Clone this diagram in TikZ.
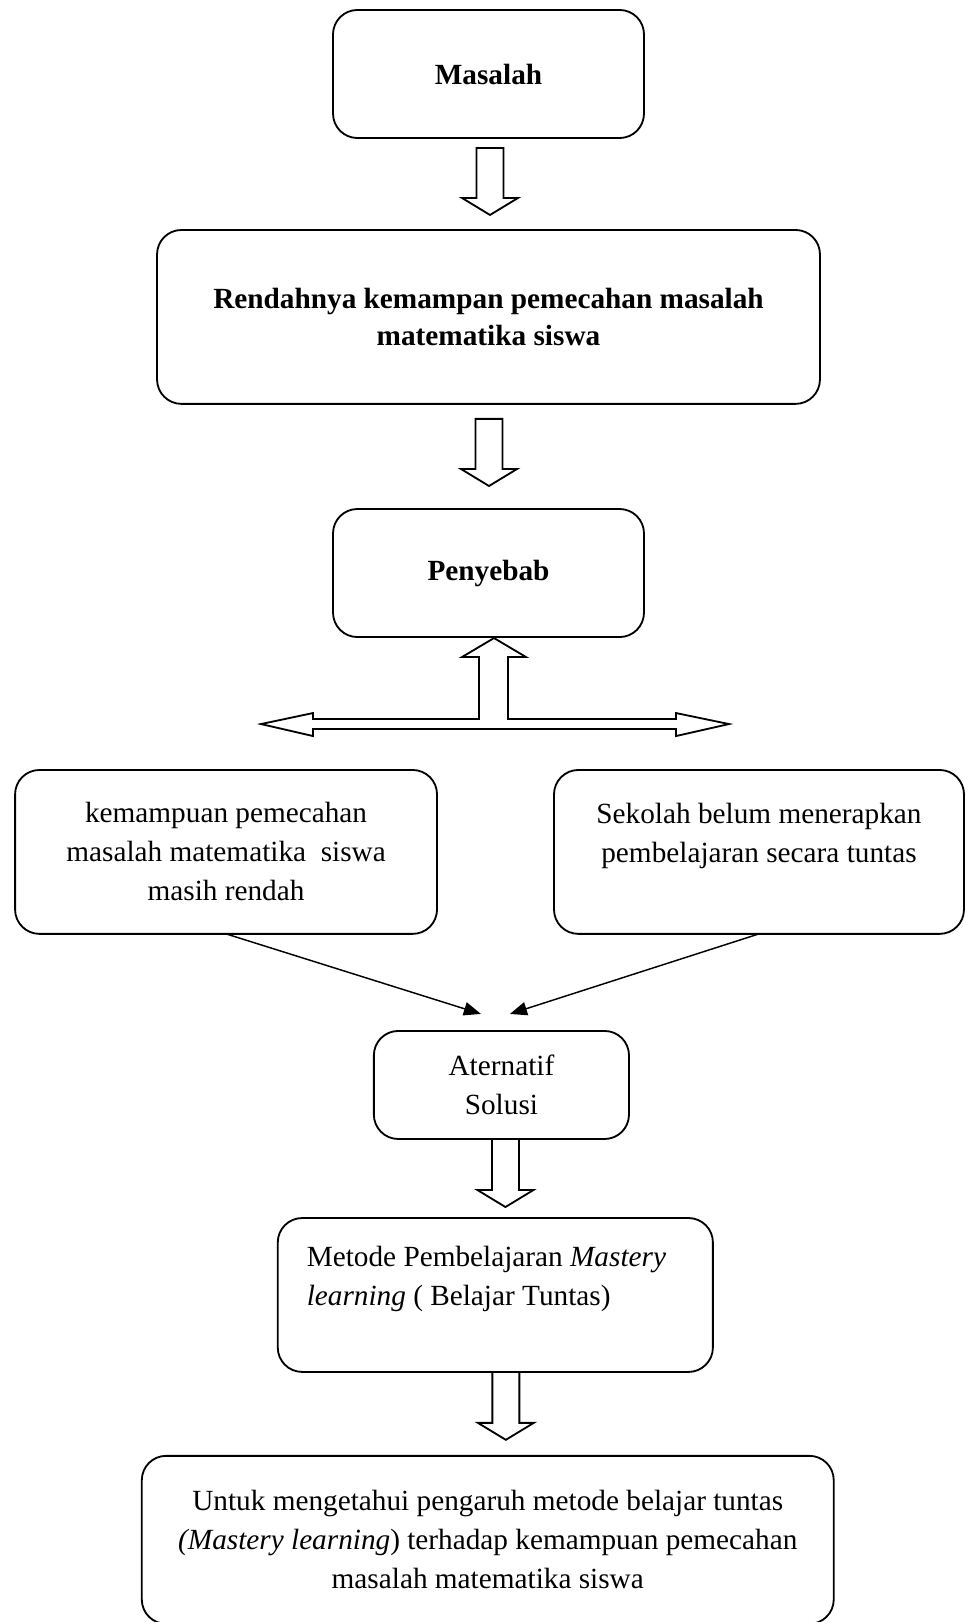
\documentclass[tikz,border=0pt]{standalone}
\usepackage{fontspec}
\setmainfont{Liberation Serif}
\usetikzlibrary{positioning,calc,arrows.meta}
\tikzset{
  kotak/.style={draw, line width=0.75pt, outer sep=0pt, rounded corners=10pt, align=center, font=\fontsize{12pt}{16pt}\selectfont},
  blokpanah/.style={draw, line width=0.75pt, fill=white, line join=miter},
  panah/.style={line width=0.6pt, -{Triangle[length=7pt,width=5.5pt]}}
}
\begin{document}
\begin{tikzpicture}[x=0.41pt,y=-0.41pt]
    \newcommand{\panahBawah}[2]{
        \draw[blokpanah] ($(#1)+(-13.5,0)$) -- ($(#1)+(13.5,0)$) -- ($(#1 |- #2)+(13.5,-17)$) -- ($(#1 |- #2)+(28,-17)$) -- (#1 |- #2) -- ($(#1 |- #2)+(-28,-17)$) -- ($(#1 |- #2)+(-13.5,-17)$) -- cycle;
    }
  \useasboundingbox (0,0) rectangle (965,1622);

  \node[kotak, minimum width=127.5pt, minimum height=52.5pt] (masalah) at (488.5,74) {\textbf{Masalah}};
  \node[kotak, minimum width=271.8pt, minimum height=71.3pt, font=\fontsize{12pt}{15pt}\selectfont, below=37.7pt of masalah] (rendah)
    {\textbf{Rendahnya kemampan pemecahan masalah}\\ \textbf{matematika siswa}};
  \node[kotak, minimum width=127.5pt, minimum height=52.5pt, below=43.1pt of rendah] (penyebab) {\textbf{Penyebab}};

  \node[kotak, minimum width=173pt, minimum height=67.2pt, below=54.5pt of penyebab, xshift=-107.6pt] (kiri)
    {kemampuan pemecahan\\ masalah matematika~ siswa\\ masih rendah};
  \node[kotak, minimum width=168.1pt, minimum height=67.2pt, below=54.5pt of penyebab, xshift=110.9pt] (kanan)
    {Sekolah belum menerapkan\\ pembelajaran secara tuntas\\ \mbox{}};

  \node[kotak, minimum width=104.6pt, minimum height=44.3pt, below=161.5pt of penyebab, xshift=5.3pt] (solusi) {Aternatif\\ Solusi};
  \node[kotak, minimum width=178.4pt, minimum height=63.1pt, text width=154.6pt, align=flush left, below=32.4pt of solusi, xshift=-2.5pt] (metode)
    {Metode Pembelajaran \textit{Mastery}\\ \textit{learning} ( Belajar Tuntas)\\ \mbox{}};
  \node[kotak, minimum width=283.7pt, minimum height=68.9pt, below=34.4pt of metode, xshift=-3.1pt] (tujuan)
    {Untuk mengetahui pengaruh metode belajar tuntas\\ \textit{(Mastery learning}) terhadap kemampuan pemecahan\\ masalah matematika siswa};

  \coordinate (a1) at ($(masalah.south)+(1.5,10)$);
  \coordinate (b1) at ($(rendah.north)+(1.5,-15)$);
  \coordinate (a2) at ($(rendah.south)+(0.5,15)$);
  \coordinate (b2) at ($(penyebab.north)+(0.5,-23)$);
  \coordinate (a3) at ($(solusi.south)+(4,0)$);
  \coordinate (b3) at ($(metode.north)+(10,-11)$);
  \coordinate (a4) at ($(metode.south)+(10.5,0)$);
  \coordinate (b4) at ($(tujuan.north)+(18,-16)$);
  \panahBawah{a1}{b1}
  \panahBawah{a2}{b2}
  \panahBawah{a3}{b3}
  \panahBawah{a4}{b4}

  \coordinate (cabang) at ($(penyebab.south)+(5.5,1)$);
  \draw[blokpanah] (cabang) -- ++(32,19) -- ++(-18,0) -- ++(0,62) -- ++(168,0) -- ++(0,-6) -- ++(53,11) -- ++(-53,12) -- ++(0,-7)
    -- ++(-363,0) -- ++(0,7) -- ++(-52,-12) -- ++(52,-11) -- ++(0,6) -- ++(166,0) -- ++(0,-62) -- ++(-17,0) -- cycle;

  \coordinate (ujung1) at ($(solusi.north)+(-20.5,-17)$);
  \coordinate (ujung2) at ($(solusi.north)+(8.5,-17)$);
  \draw[panah] (kiri.south) -- (ujung1);
  \draw[panah] (kanan.south) -- (ujung2);
\end{tikzpicture}
\end{document}
